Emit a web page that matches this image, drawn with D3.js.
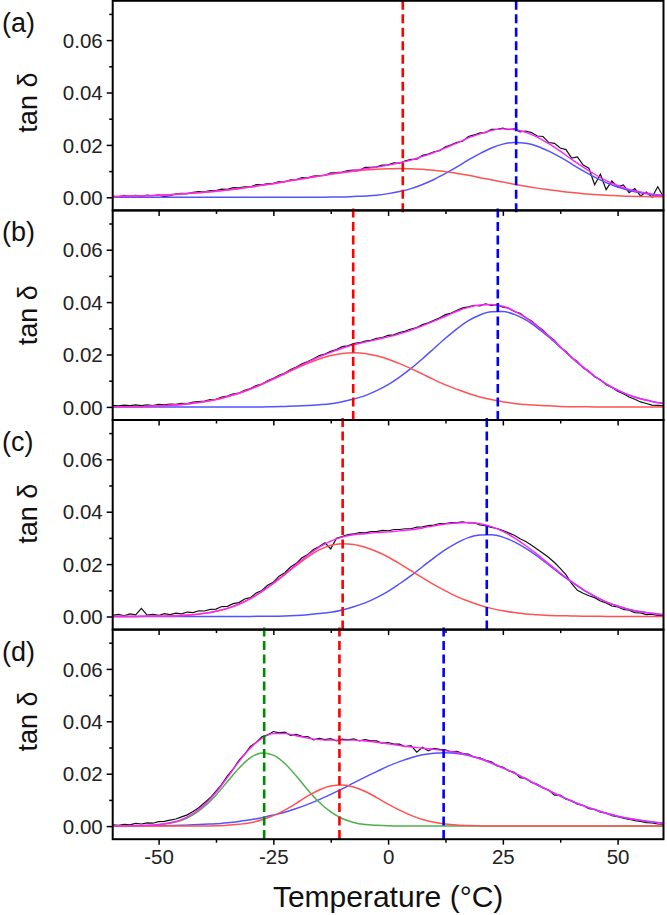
<!DOCTYPE html>
<html><head><meta charset="utf-8">
<script src="https://cdn.jsdelivr.net/npm/d3@7"></script>
<style>
html,body{margin:0;padding:0;background:#fff;}
svg{display:block;}
</style></head><body>
<svg id="chart" width="667" height="915"></svg>
<script>
// ---------------- DATA ----------------
const panelLabels = ["(a)", "(b)", "(c)", "(d)"];
const yTitle = "tan \u03b4";
const xTitle = "Temperature (\u00b0C)";
const yTicks = [0, 0.02, 0.04, 0.06];
const yMinorTicks = [0.01, 0.03, 0.05, 0.07];
const xTicks = [-50, -25, 0, 25, 50];
const xMinorTicks = [-37.5, -12.5, 12.5, 37.5];

// temperature grid of the fitted peak components (°C)
const fitTemps = [-60,-57.5,-55,-52.5,-50,-47.5,-45,-42.5,-40,-37.5,-35,-32.5,-30,-27.5,-25,-22.5,-20,-17.5,-15,-12.5,-10,-7.5,-5,-2.5,0,2.5,5,7.5,10,12.5,15,17.5,20,22.5,25,27.5,30,32.5,35,37.5,40,42.5,45,47.5,50,52.5,55,57.5,60];
// temperature grid of the measured curves (°C)
const dataTemps = [-60,-58.75,-57.5,-56.25,-55,-53.75,-52.5,-51.25,-50,-48.75,-47.5,-46.25,-45,-43.75,-42.5,-41.25,-40,-38.75,-37.5,-36.25,-35,-33.75,-32.5,-31.25,-30,-28.75,-27.5,-26.25,-25,-23.75,-22.5,-21.25,-20,-18.75,-17.5,-16.25,-15,-13.75,-12.5,-11.25,-10,-8.75,-7.5,-6.25,-5,-3.75,-2.5,-1.25,0,1.25,2.5,3.75,5,6.25,7.5,8.75,10,11.25,12.5,13.75,15,16.25,17.5,18.75,20,21.25,22.5,23.75,25,26.25,27.5,28.75,30,31.25,32.5,33.75,35,36.25,37.5,38.75,40,41.25,42.5,43.75,45,46.25,47.5,48.75,50,51.25,52.5,53.75,55,56.25,57.5,58.75,60];

// all tan δ values below are in units of 1e-4
const UNIT = 1e-4;

// (a)
const measuredA = [4,2,7,4,7,3,8,6,9,3, 6,13,15,14,19,22,21,26,26,31, 30,37,36,40,40,48,48,52,53,60, 59,67,68,75,74,81,83,84,93,94, 96,102,104,103,114,114,116,123,124,131, 130,139,145,146,160,165,174,178,193,200, 210,214,232,238,246,247,259,259,264,258, 261,250,253,247,234,232,209,206,188,182, 150,154,123,111,48,88,29,62,40,47, 18,33,5,20,0,40,0];
const redA  = [3,4,5,6,8,10,13,16,19,23,28,33,39,46,52,60,67,74,81,88,94,99,104,107,109,110,109,107,103,98,91,84,75,67,58,50,42,35,29,23,18,14,11,8,6,4,3,2,2];
const blueA = [0,0,0,0,0,0,0,0,0,0,0,0,0,0,0,0,0,0,0,1,1,3,5,8,14,22,33,49,68,91,116,143,167,188,203,209,206,195,176,153,127,101,77,56,39,26,17,10,6];
const peakTempsA = [3.2, 27.9];          // red, blue

// (b)
const measuredB = [6,4,7,5,8,5,8,5,10,8, 11,10,14,13,18,20,22,28,29,37, 41,50,53,63,70,81,87,100,109,121, 129,143,152,165,173,184,196,202,212,219, 230,233,242,245,251,254,262,265,273,275, 284,289,297,303,314,321,331,340,352,358, 369,378,382,388,386,393,387,390,381,377, 364,357,340,328,309,293,271,254,228,212, 188,173,149,136,115,104,85,74,60,50, 38,29,19,13,7,6,4];
const redB  = [1,1,1,2,4,6,9,14,20,28,39,52,68,86,106,126,147,166,183,196,204,207,204,195,182,165,146,125,104,84,67,51,38,28,20,13,9,6,4,2,1,1,0,0,0,0,0,0,0];
const blueB = [0,0,0,0,0,0,0,0,0,0,0,0,0,0,1,2,3,5,8,12,20,30,43,62,85,114,147,184,223,262,298,329,351,363,364,353,332,302,267,228,188,151,117,88,64,45,31,21,13];
const peakTempsB = [-7.6, 23.9];

// (c)
const measuredC = [4,8,3,10,6,31,5,8,4,11, 7,13,10,17,15,22,21,27,28,38, 39,49,53,67,72,90,99,119,131,154, 167,189,203,224,237,256,267,281,258,299, 305,313,315,320,319,324,324,329,327,332, 332,335,335,341,342,347,349,355,355,358, 358,361,357,358,350,347,340,336,328,319, 310,297,286,272,257,241,225,206,184,160, 125,100,89,79,72,59,52,40,37,27, 24,15,14,7,9,3,3];
const redC  = [0,0,0,1,1,2,4,7,12,20,31,47,68,95,126,160,195,227,254,272,278,275,264,248,227,202,175,148,122,98,76,58,43,31,22,15,10,7,4,3,2,1,1,0,0,0,0,0,0];
const blueC = [0,0,0,0,0,0,0,0,0,0,0,0,0,1,1,2,4,7,11,16,25,37,52,72,96,125,156,190,224,255,281,301,311,312,303,285,260,230,197,163,131,102,77,56,40,27,18,12,7];
const peakTempsC = [-9.9, 21.5];

// (d)
const measuredD = [5,3,7,5,10,8,12,11,17,18, 23,27,35,43,56,70,89,108,133,159, 192,218,251,275,304,319,341,348,361,356, 359,346,350,343,342,329,335,330,334,325, 332,329,333,325,330,325,325,316,319,313, 313,303,307,282,301,287,297,293,291,283, 285,277,275,263,261,251,245,230,225,211, 205,185,182,167,160,146,138,118,118,103, 97,84,79,67,64,53,50,40,36,30, 26,21,18,13,12,8,7];
const greenD = [0,0,1,2,5,11,22,43,75,118,170,221,261,279,271,239,191,138,91,54,29,14,6,3,1,0,0,0,0,0,0,0,0,0,0,0,0,0,0,0,0,0,0,0,0,0,0,0,0];
const redD   = [0,0,0,0,0,0,0,0,0,1,3,7,13,24,40,61,87,115,138,153,157,149,132,109,84,61,41,25,15,8,4,2,1,0,0,0,0,0,0,0,0,0,0,0,0,0,0,0,0];
const blueD  = [0,0,1,1,1,2,3,5,7,9,13,18,24,32,42,53,67,83,101,121,142,165,187,208,229,246,261,272,278,280,277,269,257,241,222,202,180,157,136,115,95,78,63,49,38,29,22,16,12];
const peakTempsD = [-27.0, -10.6, 12.1]; // green, red, blue

// ---------------- STYLE / LAYOUT ----------------
const FONT = "'Liberation Sans', Arial, Helvetica, sans-serif";
const C = {
  red: "#ff5252", blue: "#5252ff", green: "#4daf4d",
  redD: "#ff0000", blueD: "#0000ff", greenD: "#008a00",
  fit: "#ff22ff", data: "#111111"
};
const plotLeft = 112.7, plotRight = 663.5;
const panelTop0 = 0.8, panelH = 209.6;
const yTitleShift = [-3, 0, -11, -13];

const panels = [
  {measured: measuredA, comps: [{v: blueA, c: C.blue}, {v: redA, c: C.red}], peaks: [{t: peakTempsA[0], c: C.redD}, {t: peakTempsA[1], c: C.blueD}]},
  {measured: measuredB, comps: [{v: blueB, c: C.blue}, {v: redB, c: C.red}], peaks: [{t: peakTempsB[0], c: C.redD}, {t: peakTempsB[1], c: C.blueD}]},
  {measured: measuredC, comps: [{v: blueC, c: C.blue}, {v: redC, c: C.red}], peaks: [{t: peakTempsC[0], c: C.redD}, {t: peakTempsC[1], c: C.blueD}]},
  {measured: measuredD, comps: [{v: blueD, c: C.blue}, {v: greenD, c: C.green}, {v: redD, c: C.red}], peaks: [{t: peakTempsD[0], c: C.greenD}, {t: peakTempsD[1], c: C.redD}, {t: peakTempsD[2], c: C.blueD}]}
];

// ---------------- DRAW ----------------
const svg = d3.select("#chart").style("font-family", FONT);
const x = d3.scaleLinear().domain([-60, 60]).range([plotLeft, plotRight]);

panels.forEach((p, i) => {
  const top = panelTop0 + i * panelH, bottom = top + panelH;
  const y = d3.scaleLinear().domain([-0.005, 0.075]).range([bottom, top]);
  const g = svg.append("g");
  const line = d3.line().x(d => x(d[0])).y(d => y(d[1] * UNIT)).curve(d3.curveLinear);
  const smooth = d3.line().x(d => x(d[0])).y(d => y(d[1] * UNIT)).curve(d3.curveMonotoneX);

  // measured data
  g.append("path").attr("d", line(d3.zip(dataTemps, p.measured)))
    .attr("fill", "none").attr("stroke", C.data).attr("stroke-width", 1.2);

  // component peaks
  p.comps.forEach(cp => {
    g.append("path").attr("d", smooth(d3.zip(fitTemps, cp.v)))
      .attr("fill", "none").attr("stroke", cp.c).attr("stroke-width", 1.5);
  });

  // cumulative fit = sum of components
  const sum = fitTemps.map((t, k) => [t, d3.sum(p.comps, cp => cp.v[k])]);
  g.append("path").attr("d", smooth(sum))
    .attr("fill", "none").attr("stroke", C.fit).attr("stroke-width", 1.4);

  // peak position markers
  p.peaks.forEach(pk => {
    g.append("line").attr("x1", x(pk.t)).attr("x2", x(pk.t))
      .attr("y1", i === 0 ? top : top - 2).attr("y2", i === 3 ? bottom : bottom + 3)
      .attr("stroke", pk.c).attr("stroke-width", 2.6).attr("stroke-dasharray", "9,4.5");
  });

  // frame
  g.append("rect").attr("x", plotLeft).attr("y", top).attr("width", plotRight - plotLeft).attr("height", panelH)
    .attr("fill", "none").attr("stroke", "#000").attr("stroke-width", 2);

  // y axis
  const ya = g.append("g").attr("transform", `translate(${plotLeft},0)`)
    .call(d3.axisLeft(y).tickValues(yTicks).tickSize(6).tickPadding(4).tickFormat(d3.format(".2f")));
  const yam = g.append("g").attr("transform", `translate(${plotLeft},0)`)
    .call(d3.axisLeft(y).tickValues(yMinorTicks).tickSize(3.5).tickFormat(""));
  [ya, yam].forEach(a => { a.select(".domain").remove(); a.selectAll("line").attr("stroke-width", 1.5); });
  ya.selectAll("text").attr("font-size", 20.5).attr("font-family", FONT).attr("fill", "#222").attr("dy", "0.35em");

  // x axis
  const xa = g.append("g").attr("transform", `translate(0,${bottom})`)
    .call(d3.axisBottom(x).tickValues(xTicks).tickSize(5.5).tickPadding(5).tickFormat(d => i === 3 ? String(d) : ""));
  const xam = g.append("g").attr("transform", `translate(0,${bottom})`)
    .call(d3.axisBottom(x).tickValues(xMinorTicks).tickSize(3.5).tickFormat(""));
  [xa, xam].forEach(a => { a.select(".domain").remove(); a.selectAll("line").attr("stroke-width", 1.5); });
  xa.selectAll("text").attr("font-size", 20.5).attr("font-family", FONT).attr("fill", "#222").attr("dy", "0.72em");

  // panel label
  g.append("text").attr("x", 2).attr("y", top + 31).text(panelLabels[i])
    .attr("font-size", 27).attr("fill", "#111");

  // y title
  g.append("text").attr("transform", `translate(37,${(top + bottom) / 2 + yTitleShift[i]}) rotate(-90)`)
    .attr("text-anchor", "middle").attr("font-size", 27).attr("fill", "#111").text(yTitle);
});

// x title
svg.append("text").attr("x", (plotLeft + plotRight) / 2).attr("y", 907).attr("text-anchor", "middle")
  .attr("font-size", 30).attr("fill", "#111").text(xTitle);
</script>
</body></html>
